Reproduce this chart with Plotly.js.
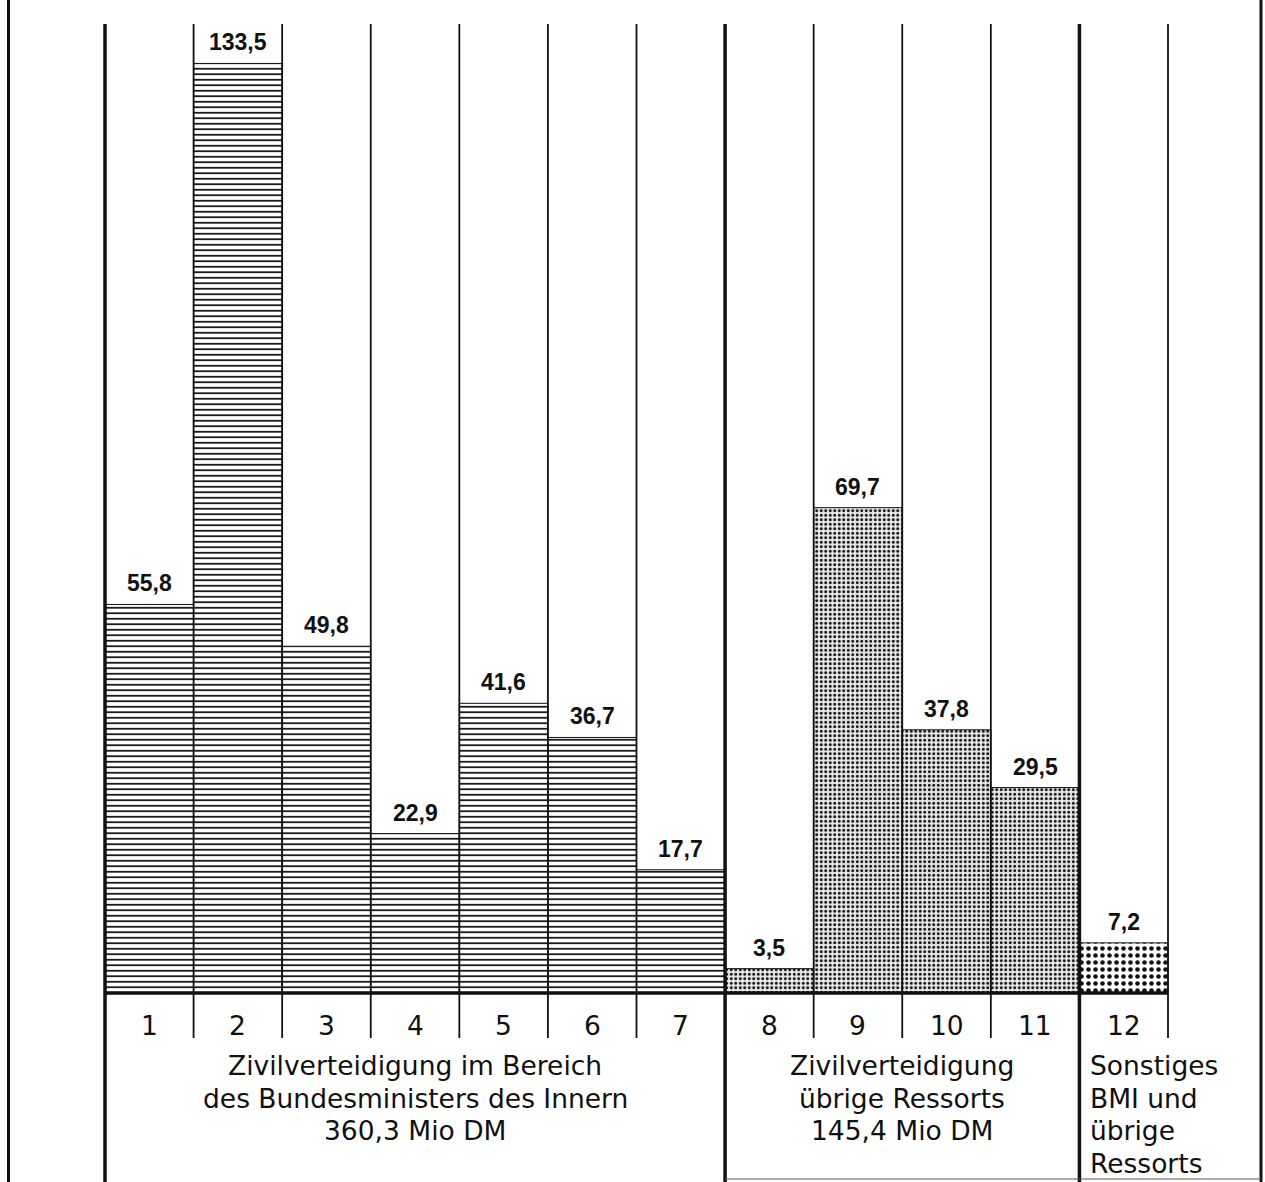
<!DOCTYPE html>
<html>
<head>
<meta charset="utf-8">
<script src="https://cdn.plot.ly/plotly-3.0.1.min.js"></script>
<style>
  html, body { margin: 0; padding: 0; background: #fff; }
  #chart { width: 1265px; height: 1182px; }
</style>
</head>
<body>
<div id="chart"></div>
<script>
// ---------------- data ----------------
const categories = [1, 2, 3, 4, 5, 6, 7, 8, 9, 10, 11, 12];
const categoryLabels = ['1', '2', '3', '4', '5', '6', '7', '8', '9', '10', '11', '12'];
const values = [55.8, 133.5, 49.8, 22.9, 41.6, 36.7, 17.7, 3.5, 69.7, 37.8, 29.5, 7.2];
const valueLabels = ['55,8', '133,5', '49,8', '22,9', '41,6', '36,7', '17,7', '3,5', '69,7', '37,8', '29,5', '7,2'];

// groups: first and last category index (1-based) of each group
const groupRanges = [[1, 7], [8, 11], [12, 12]];
const groupLinesBMI = ['Zivilverteidigung im Bereich', 'des Bundesministers des Innern', '360,3 Mio DM'];
const groupLinesOther = ['Zivilverteidigung', 'übrige Ressorts', '145,4 Mio DM'];
const groupLinesRest = ['Sonstiges', 'BMI und', 'übrige', 'Ressorts'];

// ---------------- layout helpers ----------------
const W = 1265, H = 1182;
const baseY = 993;              // pixel row of the baseline
const pxPerUnit = 6.963;        // vertical scale
const colLeft = 105, colRight = 1168;
const colW = (colRight - colLeft) / categories.length;
const xMin = 0.5 - colLeft / colW;
const xMax = categories.length + 0.5 + (W - colRight) / colW;
const yMin = -(H - baseY) / pxPerUnit;
const yMax = baseY / pxPerUnit;
const pxToX = px => 0.5 + (px - colLeft) / colW;
const pxToY = py => (baseY - py) / pxPerUnit;

function sub(arr, a, b) { return arr.slice(a - 1, b); }

const traceStyles = [
  { color: '#ffffff', pattern: { shape: '-', fgcolor: '#111111', bgcolor: '#ffffff', size: 5.5, solidity: 0.32 } },
  { color: '#e6e6e6', pattern: { shape: '.', fgcolor: '#161616', bgcolor: '#ebebeb', size: 4.5, solidity: 0.34 } },
  { color: '#ffffff', pattern: { shape: '.', fgcolor: '#111111', bgcolor: '#ffffff', size: 7, solidity: 0.34 } }
];

const traces = groupRanges.map((g, i) => ({
  type: 'bar',
  x: sub(categories, g[0], g[1]),
  y: sub(values, g[0], g[1]),
  width: 1,
  marker: {
    color: traceStyles[i].color,
    pattern: traceStyles[i].pattern,
    line: { color: '#111111', width: 1 }
  },
  hoverinfo: 'skip'
}));

// ---------------- shapes ----------------
const shapes = [];
const groupBounds = [0.5, 7.5, 11.5];
const topY = pxToY(24);
const shortBottom = pxToY(1038);
for (let k = 0; k <= categories.length; k++) {
  const x = k + 0.5;
  const isGroup = groupBounds.includes(x);
  shapes.push({
    type: 'line', xref: 'x', yref: 'y', layer: 'above',
    x0: x, x1: x, y0: isGroup ? yMin : shortBottom, y1: topY,
    line: { color: '#111111', width: isGroup ? 3.5 : 1.8 }
  });
}
// outer frame lines
[pxToX(8.5), pxToX(1261)].forEach(x => shapes.push({
  type: 'line', xref: 'x', yref: 'paper', layer: 'above',
  x0: x, x1: x, y0: 0, y1: 1,
  line: { color: '#111111', width: 3 }
}));
// baseline
shapes.push({
  type: 'line', xref: 'x', yref: 'y', layer: 'above',
  x0: 0.5, x1: categories.length + 0.5, y0: 0, y1: 0,
  line: { color: '#111111', width: 3.5 }
});
// bottom edge of right boxes
shapes.push({
  type: 'line', xref: 'x', yref: 'y', layer: 'above',
  x0: 7.5, x1: pxToX(1261), y0: pxToY(1179), y1: pxToY(1179),
  line: { color: '#555555', width: 1.2 }
});

// ---------------- annotations ----------------
const annotations = [];
const valueFont = { family: 'Liberation Sans, Arial, sans-serif', size: 23, color: '#111111', weight: 'bold' };
const labelFont = { family: 'DejaVu Sans, sans-serif', size: 26.5, color: '#111111' };

categories.forEach((c, i) => {
  annotations.push({
    x: c, y: values[i], xref: 'x', yref: 'y',
    text: '<b>' + valueLabels[i] + '</b>', showarrow: false,
    xanchor: 'center', yanchor: 'middle', yshift: 21,
    borderpad: 0, borderwidth: 0,
    font: valueFont
  });
  annotations.push({
    x: c, y: 0, xref: 'x', yref: 'y',
    text: categoryLabels[i], showarrow: false,
    xanchor: 'center', yanchor: 'middle', yshift: -32,
    borderpad: 0, borderwidth: 0,
    font: labelFont
  });
});

const lineOffsets = [-72, -105, -137.5, -170];
function addGroupLines(lines, x, xanchor, xshift) {
  lines.forEach((t, j) => annotations.push({
    x: x, y: 0, xref: 'x', yref: 'y',
    text: t, showarrow: false,
    xanchor: xanchor, yanchor: 'middle', yshift: lineOffsets[j], xshift: xshift,
    borderpad: 0, borderwidth: 0,
    font: labelFont
  }));
}
addGroupLines(groupLinesBMI, (groupRanges[0][0] + groupRanges[0][1]) / 2, 'center', 0);
addGroupLines(groupLinesOther, (groupRanges[1][0] + groupRanges[1][1]) / 2, 'center', 0);
addGroupLines(groupLinesRest, groupRanges[2][0] - 0.5, 'left', 11);

const layout = {
  width: W, height: H,
  margin: { l: 0, r: 0, t: 0, b: 0 },
  paper_bgcolor: '#ffffff', plot_bgcolor: '#ffffff',
  showlegend: false,
  barmode: 'overlay',
  bargap: 0,
  xaxis: { range: [xMin, xMax], visible: false, fixedrange: true },
  yaxis: { range: [yMin, yMax], visible: false, fixedrange: true },
  shapes: shapes,
  annotations: annotations
};

Plotly.newPlot('chart', traces, layout, { staticPlot: true, displayModeBar: false });
</script>
</body>
</html>
